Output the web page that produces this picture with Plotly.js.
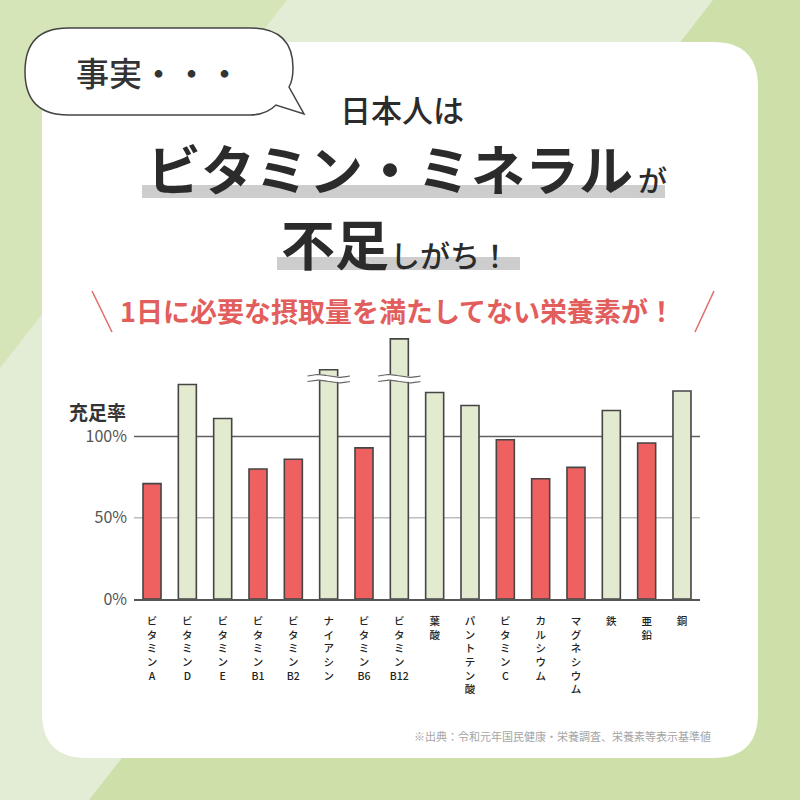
<!DOCTYPE html>
<html>
<head>
<meta charset="utf-8">
<script src="https://cdn.plot.ly/plotly-3.0.1.min.js"></script>
<style>html,body{margin:0;padding:0;background:#fff;}#chart{width:800px;height:800px;}</style>
</head>
<body>
<div id="chart"></div>
<script>
// ---------- DATA ----------
const categories = ["ビタミンA","ビタミンD","ビタミンE","ビタミンB1","ビタミンB2","ナイアシン","ビタミンB6","ビタミンB12","葉酸","パントテン酸","ビタミンC","カルシウム","マグネシウム","鉄","亜鉛","銅"];
const sufficiency = [71, 132, 111, 80, 86, 141, 93, 160, 127, 119, 98, 74, 81, 116, 96, 128];
const brokenBars = ["ナイアシン","ビタミンB12"];
const yTickValues = [0, 50, 100];
const yTickLabels = ["0%", "50%", "100%"];

// ---------- STYLE ----------
const FONT = "Noto Sans CJK JP, Noto Sans, sans-serif";
const RED = "#EF6160", GREEN = "#E2EAD0", OUTLINE = "#454545";
const breakLevel = 135.5;

const X = px => px / 800;
const Y = py => 1 - py / 800;
function path(cmds){
  return cmds.map(c => {
    if (c[0] === 'Z') return 'Z';
    const out = [c[0]];
    for (let i = 1; i < c.length; i += 2) out.push(X(c[i]).toFixed(5) + ',' + Y(c[i+1]).toFixed(5));
    return out[0] + out.slice(1).join(' ');
  }).join(' ');
}
function roundRect(x0, y0, x1, y1, r){
  return path([['M',x0+r,y0],['L',x1-r,y0],['Q',x1,y0,x1,y0+r],['L',x1,y1-r],['Q',x1,y1,x1-r,y1],
    ['L',x0+r,y1],['Q',x0,y1,x0,y1-r],['L',x0,y0+r],['Q',x0,y0,x0+r,y0],['Z']]);
}
function vertical(label){
  const parts = label.match(/[A-Za-z0-9]+|./g);
  return parts.join('<br>');
}

const idx = categories.map((_, i) => i);
const colors = sufficiency.map(v => v < 100 ? RED : GREEN);

const traces = [{
  type: 'bar', x: idx, y: sufficiency, width: 0.51,
  marker: {color: colors, line: {color: OUTLINE, width: 1.6}},
  hoverinfo: 'skip', showlegend: false
}];

// break marks (wavy) on truncated bars
brokenBars.forEach(name => {
  const i = categories.indexOf(name);
  const xs = [], yw = [], yt = [], yb = [];
  for (let k = 0; k <= 40; k++) {
    const t = k / 40;
    const xx = i - 0.6 + 1.2 * t;
    const w = 0.9 * Math.sin(t * Math.PI * 2);
    xs.push(xx); yw.push(breakLevel + w); yt.push(breakLevel + w + 1.7); yb.push(breakLevel + w - 1.7);
  }
  traces.push({type:'scatter', mode:'lines', x: xs, y: yw, line:{color:'#ffffff', width:5.5}, hoverinfo:'skip', showlegend:false});
  traces.push({type:'scatter', mode:'lines', x: xs, y: yt, line:{color:'#666', width:1.2}, hoverinfo:'skip', showlegend:false});
  traces.push({type:'scatter', mode:'lines', x: xs, y: yb, line:{color:'#666', width:1.2}, hoverinfo:'skip', showlegend:false});
});

const shapes = [
  // darker lower-right background
  {type:'path', xref:'paper', yref:'paper', layer:'below', line:{width:0}, fillcolor:'#CDE0AA',
   path: path([['M',713,0],['L',800,0],['L',800,800],['L',89,800],['Z']])},
  // background diagonal band
  {type:'path', xref:'paper', yref:'paper', layer:'below', line:{width:0}, fillcolor:'#E3ECD4',
   path: path([['M',287,0],['L',713,0],['L',89,800],['L',-337,800],['Z']])},
  // white card
  {type:'path', xref:'paper', yref:'paper', layer:'below', line:{width:0}, fillcolor:'#ffffff',
   path: roundRect(42, 42, 758, 758, 45)},
  // speech bubble
  {type:'path', xref:'paper', yref:'paper', layer:'below', line:{color:'#444', width:1.5}, fillcolor:'#ffffff',
   path: path([['M',68,28],['L',250,28],['Q',293,28,293,68],['Q',293,80,289,87],['L',304,114],['L',276,105],
     ['Q',266,115,250,115],['L',68,115],['Q',25,115,25,71.5],['Q',25,28,68,28],['Z']])},
  // gray highlight bands
  {type:'rect', xref:'paper', yref:'paper', layer:'below', line:{width:0}, fillcolor:'#CDCDCD',
   x0:X(142), x1:X(665), y0:Y(185), y1:Y(198)},
  {type:'rect', xref:'paper', yref:'paper', layer:'below', line:{width:0}, fillcolor:'#CDCDCD',
   x0:X(277), x1:X(520), y0:Y(257), y1:Y(270)},
  // red slashes
  {type:'line', xref:'paper', yref:'paper', line:{color:'#E26A68', width:1.5}, x0:X(92), y0:Y(291), x1:X(112), y1:Y(332)},
  {type:'line', xref:'paper', yref:'paper', line:{color:'#E26A68', width:1.5}, x0:X(714), y0:Y(291), x1:X(695), y1:Y(332)},
  // reference lines
  {type:'line', xref:'x domain', yref:'y', layer:'below', x0:0, x1:1, y0:50, y1:50, line:{color:'#BDBDBD', width:1.5}},
  {type:'line', xref:'x domain', yref:'y', layer:'below', x0:0, x1:1, y0:100, y1:100, line:{color:'#606060', width:1.5}}
];

const ann = (text, x, y, size, opts) => Object.assign({
  text, xref:'paper', yref:'paper', x: X(x), y: Y(y), xanchor:'left', yanchor:'middle', showarrow:false,
  font:{family:FONT, size, color:'#2b2b2b'}
}, opts || {});

const annotations = [
  ann("事実・・・", 74, 72, 33, {font:{family:FONT, size:33, color:'#333', weight:500}}),
  ann("日本人は", 402, 108, 31, {xanchor:'center', font:{family:FONT, size:31, color:'#2b2b2b', weight:500}}),
  ann("ビタミン・ミネラル", 145, 167, 54, {font:{family:FONT, size:54, color:'#2b2b2b', weight:700}}),
  ann("が", 636, 179, 29, {font:{family:FONT, size:29, color:'#2b2b2b', weight:500}}),
  ann("不足", 279, 243, 54, {font:{family:FONT, size:54, color:'#2b2b2b', weight:700}}),
  ann("しがち！", 388, 254, 30, {font:{family:FONT, size:30, color:'#2b2b2b', weight:500}}),
  ann("1日に必要な摂取量を満たしてない栄養素が！", 397, 311, 27, {xanchor:'center', font:{family:FONT, size:27, color:'#E25E5C', weight:700}}),
  ann("充足率", 128, 411, 19, {xanchor:'right', font:{family:FONT, size:19, color:'#333', weight:700}}),
  ann("※出典：令和元年国民健康・栄養調査、栄養素等表示基準値", 412, 736, 11, {font:{family:FONT, size:11, color:'#A5A5A5'}})
];

const layout = {
  width: 800, height: 800,
  margin: {l:0, r:0, t:0, b:0},
  paper_bgcolor: '#D5E5B7',
  plot_bgcolor: 'rgba(0,0,0,0)',
  showlegend: false,
  xaxis: {
    domain: [X(134), X(700)], range: [-0.51, 15.51], fixedrange: true,
    tickmode: 'array', tickvals: idx, ticktext: categories.map(vertical),
    tickfont: {family: FONT, size: 10.5, color: '#222', weight: 500},
    showline: true, linecolor: '#555', linewidth: 1.5, showgrid: false, zeroline: false,
    ticks: '', ticklabelstandoff: 12, tickangle: 0, automargin: false
  },
  yaxis: {
    domain: [Y(599), Y(329)], range: [0, 166.1], fixedrange: true,
    tickmode: 'array', tickvals: yTickValues, ticktext: yTickLabels,
    tickfont: {family: FONT, size: 16, color: '#555'},
    showgrid: false, zeroline: false, showline: false, ticks: '', ticklabelstandoff: 6, automargin: false
  },
  shapes, annotations
};

Plotly.newPlot('chart', traces, layout, {displayModeBar: false, staticPlot: true});
</script>
</body>
</html>
